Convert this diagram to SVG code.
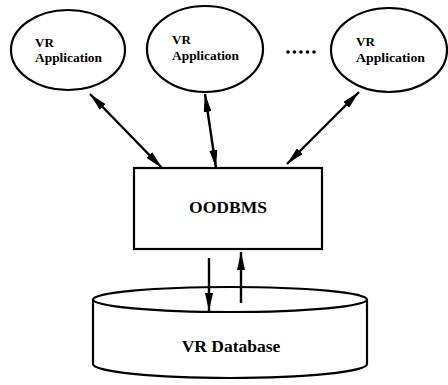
<svg xmlns="http://www.w3.org/2000/svg" width="448" height="385" viewBox="0 0 448 385">
<style>
.s{fill:none;stroke:#000;stroke-width:2.2}
.w{fill:#fff;stroke:#000;stroke-width:2.2}
.t{font-family:"Liberation Serif","Times New Roman",serif;font-weight:bold;fill:#000}
.a{fill:none;stroke:#000;stroke-width:2.4}
</style>
<defs>
<marker id="ah" markerUnits="userSpaceOnUse" viewBox="0 0 18 8" refX="18" refY="4" markerWidth="18" markerHeight="8" orient="auto-start-reverse">
<path d="M0,0 L18,4 L0,8 Z" fill="#000"/>
</marker>
</defs>
<rect width="448" height="385" fill="#fff"/>
<g id="app1">
<ellipse class="w" cx="68" cy="50" rx="57" ry="40"/>
<text class="t" x="35" y="46.5" font-size="13">VR</text>
<text class="t" x="35" y="62" font-size="13" textLength="67" lengthAdjust="spacingAndGlyphs">Application</text>
</g>
<g id="app2">
<ellipse class="w" cx="205" cy="49" rx="58" ry="43"/>
<text class="t" x="172" y="44" font-size="13">VR</text>
<text class="t" x="172" y="59.5" font-size="13" textLength="67" lengthAdjust="spacingAndGlyphs">Application</text>
</g>
<g id="dots">
<circle cx="288" cy="52" r="1.8"/>
<circle cx="294.5" cy="52" r="1.8"/>
<circle cx="301" cy="52" r="1.8"/>
<circle cx="307.5" cy="52" r="1.8"/>
<circle cx="314" cy="52" r="1.8"/>
</g>
<g id="app3">
<ellipse class="w" cx="389" cy="50" rx="58" ry="42"/>
<text class="t" x="356" y="46" font-size="13">VR</text>
<text class="t" x="356" y="61.5" font-size="13" textLength="69" lengthAdjust="spacingAndGlyphs">Application</text>
</g>
<g id="oodbms">
<rect class="w" x="134" y="168" width="188" height="81"/>
<text class="t" x="228" y="213" font-size="17.5" text-anchor="middle">OODBMS</text>
</g>
<g id="database">
<path class="w" d="M93,299.5 L93,364 A137,14 0 0 0 367,364 L367,299.5"/>
<ellipse class="w" cx="230" cy="299.5" rx="137" ry="12.5"/>
<text class="t" x="231" y="352" font-size="17.5" text-anchor="middle">VR Database</text>
</g>
<g id="connectors">
<line class="a" x1="90" y1="94" x2="162" y2="168" marker-start="url(#ah)" marker-end="url(#ah)"/>
<line class="a" x1="205" y1="94" x2="216" y2="168" marker-start="url(#ah)" marker-end="url(#ah)"/>
<line class="a" x1="359" y1="92" x2="287" y2="164" marker-start="url(#ah)" marker-end="url(#ah)"/>
<line class="a" x1="209" y1="258" x2="209" y2="311" marker-end="url(#ah)"/>
<line class="a" x1="241" y1="303" x2="241" y2="252" marker-end="url(#ah)"/>
</g>
</svg>
